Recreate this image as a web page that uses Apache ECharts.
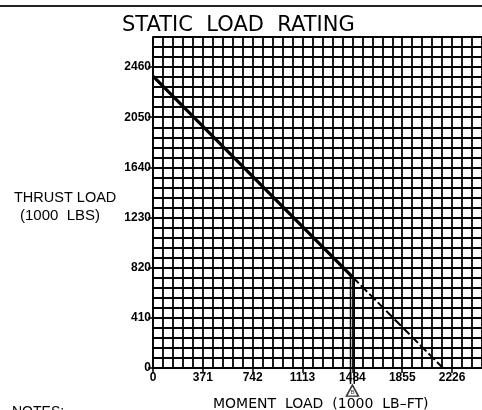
<!DOCTYPE html>
<html>
<head>
<meta charset="utf-8">
<script src="https://cdn.jsdelivr.net/npm/echarts@6/dist/echarts.min.js"></script>
<style>html,body{margin:0;padding:0;background:#fff;}#c{width:482px;height:410px;}</style>
</head>
<body>
<div id="c"></div>
<script>
// ---- data ----
const xMajorStep = 371;           // moment load label step (1000 LB-FT)
const yMajorStep = 410;           // thrust load label step (1000 LBS)
const xMinorStep = 74.2;          // grid cell width
const yMinorStep = 82;            // grid cell height
const xMax = 2448.6;              // 33 cells
const yMax = 2706;                // 33 cells
const ratingSolid = [[0, 2386], [1484, 745]];
const ratingDashed = [[1484, 745], [2158, 0]];
const refLineLeft = [[1470, 755], [1470, -130]];
const refLineRight = [[1498, 730], [1498, -130]];
const refMarker = [[1484, -185]];

const chart = echarts.init(document.getElementById('c'), null, {renderer: 'canvas'});
const FONT = 'Liberation Sans';
const WIDE = 'DejaVu Sans';
const gridAxisCommon = {
  axisLine: {show: false}, axisTick: {show: false}, axisLabel: {show: false},
  splitLine: {show: true, lineStyle: {color: '#000', width: 1.8}}
};
const plain = v => String(v);
chart.setOption({
  animation: false,
  backgroundColor: '#fff',
  title: [
    {text: 'STATIC  LOAD  RATING', left: 117, top: 10, textStyle: {fontFamily: WIDE, fontWeight: 'normal', fontSize: 21, color: '#000'}},
    {text: 'THRUST LOAD', left: 9, top: 185, textStyle: {fontFamily: FONT, fontWeight: 'normal', fontSize: 14.5, color: '#000'}},
    {text: '(1000  LBS)', left: 15, top: 203, textStyle: {fontFamily: FONT, fontWeight: 'normal', fontSize: 15, color: '#000'}},
    {text: 'MOMENT  LOAD  (1000  LB\u2013FT)', left: 208, top: 392, textStyle: {fontFamily: WIDE, fontWeight: 'normal', fontSize: 14, color: '#000'}},
    {text: 'NOTES:', left: 7, top: 400, textStyle: {fontFamily: FONT, fontWeight: 'normal', fontSize: 14, color: '#000'}}
  ],
  graphic: [
    {type: 'line', shape: {x1: 0, y1: 6, x2: 482, y2: 6}, style: {stroke: '#222', lineWidth: 2}}
  ],
  grid: {left: 153, top: 37, width: 333, height: 331, containLabel: false},
  xAxis: [
    {type: 'value', min: 0, max: xMax, interval: xMajorStep, position: 'bottom',
     axisLine: {show: true, lineStyle: {color: '#000', width: 2}},
     axisTick: {show: true, length: 5, lineStyle: {color: '#000', width: 1.5}},
     axisLabel: {show: true, showMaxLabel: false, margin: 4, formatter: plain, fontFamily: FONT, fontWeight: 'bold', fontSize: 12, color: '#000'},
     splitLine: {show: false}},
    Object.assign({type: 'value', min: 0, max: xMax, interval: xMinorStep, position: 'top'}, gridAxisCommon)
  ],
  yAxis: [
    {type: 'value', min: 0, max: yMax, interval: yMajorStep, position: 'left',
     axisLine: {show: true, lineStyle: {color: '#000', width: 2}},
     axisTick: {show: true, length: 5, lineStyle: {color: '#000', width: 1.5}},
     axisLabel: {show: true, showMaxLabel: false, margin: 2, formatter: plain, fontFamily: FONT, fontWeight: 'bold', fontSize: 12, color: '#000'},
     splitLine: {show: false}},
    Object.assign({type: 'value', min: 0, max: yMax, interval: yMinorStep, position: 'right'}, gridAxisCommon)
  ],
  series: [
    {type: 'line', data: ratingSolid, symbol: 'none', lineStyle: {color: '#000', width: 3.2}, z: 5},
    {type: 'line', data: ratingDashed, symbol: 'none', lineStyle: {color: '#000', width: 2, type: [9, 3]}, z: 5},
    {type: 'line', data: refLineLeft, symbol: 'none', clip: false, lineStyle: {color: '#000', width: 1.5}, z: 4},
    {type: 'line', data: refLineRight, symbol: 'none', clip: false, lineStyle: {color: '#000', width: 1.5}, z: 4},
    {type: 'scatter', data: refMarker, symbol: 'triangle', symbolSize: [12, 11], clip: false,
     itemStyle: {color: '#fff', borderColor: '#000', borderWidth: 1.5},
     label: {show: true, position: 'inside', formatter: 'B', fontSize: 6, fontFamily: FONT, color: '#000', offset: [0, 2]}, z: 6}
  ]
});
</script>
</body>
</html>
